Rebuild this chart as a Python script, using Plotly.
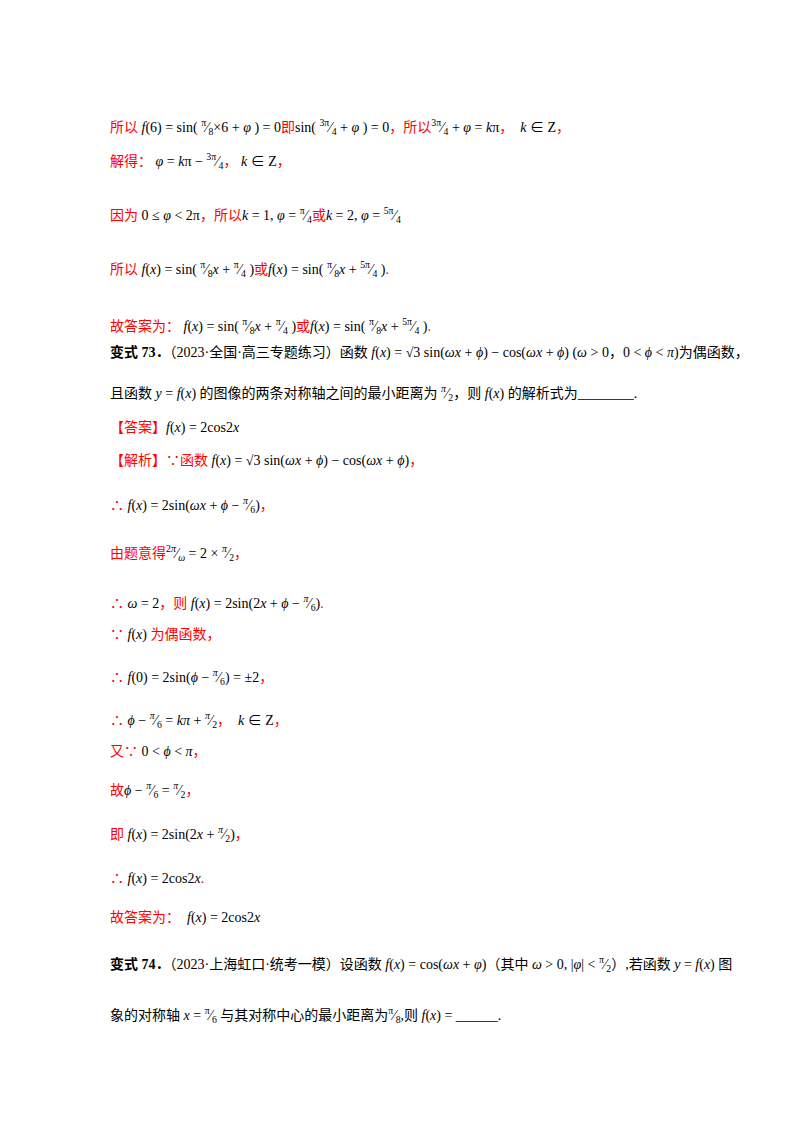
import plotly.graph_objects as go

R = "#ff0000"
K = "#000000"

def r(t): return f"<span style='color:{R}'>{t}</span>"
def k(t): return f"<span style='color:{K}'>{t}</span>"
def fr(a, b): return f"<sup>{a}</sup>⁄<sub>{b}</sub>"
def i(t): return f"<i>{t}</i>"

line_y = [119, 153, 207, 261, 318, 345, 385, 420, 453, 497, 545, 595, 627,
          669, 712, 743, 782, 826, 871, 909, 956, 1007]

line_text = [
    r("所以") + k(f" {i('f')}(6) = sin( {fr('π','8')}×6 + {i('φ')} ) = 0") + r("即") + k(f"sin( {fr('3π','4')} + {i('φ')} ) = 0") + r("，所以") + k(f"{fr('3π','4')} + {i('φ')} = {i('k')}π") + r("，") + k(f"  {i('k')} ∈ Z") + r("，"),
    r("解得：") + k(f" {i('φ')} = {i('k')}π − {fr('3π','4')}") + r("，") + k(f" {i('k')} ∈ Z") + r("，"),
    r("因为") + k(f" 0 ≤ {i('φ')} < 2π") + r("，所以") + k(f"{i('k')} = 1, {i('φ')} = {fr('π','4')}") + r("或") + k(f"{i('k')} = 2, {i('φ')} = {fr('5π','4')}"),
    r("所以") + k(f" {i('f')}({i('x')}) = sin( {fr('π','8')}{i('x')} + {fr('π','4')} )") + r("或") + k(f"{i('f')}({i('x')}) = sin( {fr('π','8')}{i('x')} + {fr('5π','4')} )") + r("."),
    r("故答案为：") + k(f" {i('f')}({i('x')}) = sin( {fr('π','8')}{i('x')} + {fr('π','4')} )") + r("或") + k(f"{i('f')}({i('x')}) = sin( {fr('π','8')}{i('x')} + {fr('5π','4')} )") + r("."),
    k(f"<b>变式 73．</b>（2023·全国·高三专题练习）函数 {i('f')}({i('x')}) = √3 sin({i('ωx')} + {i('ϕ')}) − cos({i('ωx')} + {i('ϕ')}) ({i('ω')} > 0，0 < {i('ϕ')} < {i('π')})为偶函数，"),
    k(f"且函数 {i('y')} = {i('f')}({i('x')}) 的图像的两条对称轴之间的最小距离为 {fr(i('π'),'2')}，则 {i('f')}({i('x')}) 的解析式为________."),
    r("【答案】") + k(f"{i('f')}({i('x')}) = 2cos2{i('x')}"),
    r("【解析】∵函数") + k(f" {i('f')}({i('x')}) = √3 sin({i('ωx')} + {i('ϕ')}) − cos({i('ωx')} + {i('ϕ')})") + r("，"),
    r("∴") + k(f" {i('f')}({i('x')}) = 2sin({i('ωx')} + {i('ϕ')} − {fr(i('π'),'6')})") + r("，"),
    r("由题意得") + k(f"{fr('2'+i('π'), i('ω'))} = 2 × {fr(i('π'),'2')}") + r("，"),
    r("∴") + k(f" {i('ω')} = 2") + r("，则") + k(f" {i('f')}({i('x')}) = 2sin(2{i('x')} + {i('ϕ')} − {fr(i('π'),'6')})") + r("."),
    r("∵") + k(f" {i('f')}({i('x')}) ") + r("为偶函数，"),
    r("∴") + k(f" {i('f')}(0) = 2sin({i('ϕ')} − {fr(i('π'),'6')}) = ±2") + r("，"),
    r("∴") + k(f" {i('ϕ')} − {fr(i('π'),'6')} = {i('k')}{i('π')} + {fr(i('π'),'2')}") + r("，") + k(f"  {i('k')} ∈ Z") + r("，"),
    r("又∵") + k(f" 0 < {i('ϕ')} < {i('π')}") + r("，"),
    r("故") + k(f"{i('ϕ')} − {fr(i('π'),'6')} = {fr(i('π'),'2')}") + r("，"),
    r("即") + k(f" {i('f')}({i('x')}) = 2sin(2{i('x')} + {fr(i('π'),'2')})") + r("，"),
    r("∴") + k(f" {i('f')}({i('x')}) = 2cos2{i('x')}") + r("."),
    r("故答案为：") + k(f"  {i('f')}({i('x')}) = 2cos2{i('x')}"),
    k(f"<b>变式 74．</b>（2023·上海虹口·统考一模）设函数 {i('f')}({i('x')}) = cos({i('ωx')} + {i('φ')})（其中 {i('ω')} > 0, |{i('φ')}| < {fr('π','2')}）,若函数 {i('y')} = {i('f')}({i('x')}) 图"),
    k(f"象的对称轴 {i('x')} = {fr('π','6')} 与其对称中心的最小距离为{fr('π','8')},则 {i('f')}({i('x')}) = ______."),
]

W, H = 800, 1132
fig = go.Figure()
for y, t in zip(line_y, line_text):
    fig.add_annotation(x=100 / W, y=1 - y / H, xref="paper", yref="paper",
                       text=t, showarrow=False, xanchor="left", yanchor="middle",
                       font=dict(size=14, family="Liberation Serif, Noto Sans CJK SC", color=K))
fig.update_layout(width=W, height=H, margin=dict(l=0, r=0, t=0, b=0),
                  paper_bgcolor="white", plot_bgcolor="white",
                  xaxis=dict(visible=False), yaxis=dict(visible=False))
fig.write_html("out.html")
